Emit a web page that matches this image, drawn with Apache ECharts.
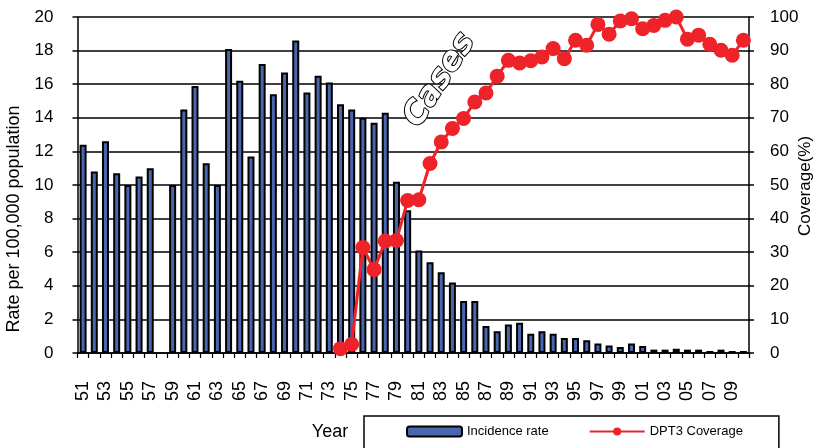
<!DOCTYPE html>
<html>
<head>
<meta charset="utf-8">
<script src="https://cdn.jsdelivr.net/npm/echarts@6/dist/echarts.min.js"></script>
<style>
  html, body { margin: 0; padding: 0; background: #fff; }
  #chart { width: 818px; height: 448px; }
</style>
</head>
<body>
<div id="chart"></div>
<script>
// Years 1951-2010, shown as two-digit labels
const years = ['51','52','53','54','55','56','57','58','59','60',
               '61','62','63','64','65','66','67','68','69','70',
               '71','72','73','74','75','76','77','78','79','80',
               '81','82','83','84','85','86','87','88','89','90',
               '91','92','93','94','95','96','97','98','99','00',
               '01','02','03','04','05','06','07','08','09','10'];

// Incidence rate per 100,000 population (1958 not reported)
const incidenceRate = [12.4, 10.8, 12.6, 10.7, 10.0, 10.5, 11.0, null, 10.0, 14.5,
                       15.9, 11.3, 10.0, 18.1, 16.2, 11.7, 17.2, 15.4, 16.7, 18.6,
                       15.5, 16.5, 16.1, 14.8, 14.5, 14.0, 13.7, 14.3, 10.2, 8.5,
                       6.1, 5.4, 4.8, 4.2, 3.1, 3.1, 1.6, 1.3, 1.7, 1.8,
                       1.15, 1.3, 1.15, 0.9, 0.9, 0.76, 0.56, 0.44, 0.36, 0.56,
                       0.42, 0.2, 0.2, 0.26, 0.2, 0.2, 0.12, 0.2, 0.12, 0.12];

// DPT3 coverage (%), reported from 1974 onward
const dpt3Coverage = [null, null, null, null, null, null, null, null, null, null,
                      null, null, null, null, null, null, null, null, null, null,
                      null, null, null, 1.3, 2.6, 31.4, 24.8, 33.3, 33.5, 45.4,
                      45.6, 56.4, 62.8, 66.8, 69.8, 74.7, 77.4, 82.4, 87.1, 86.3,
                      87.0, 88.1, 90.6, 87.6, 93.1, 91.6, 97.8, 94.9, 98.8, 99.5,
                      96.5, 97.5, 99.0, 100.0, 93.4, 94.6, 91.9, 90.1, 88.6, 93.1];

const leftTicks = { min: 0, max: 20, interval: 2 };
const rightTicks = { min: 0, max: 100, interval: 10 };

const FONT = '"Liberation Sans", Arial, sans-serif';
const chart = echarts.init(document.getElementById('chart'), null, { renderer: 'canvas' });

chart.setOption({
  animation: false,
  backgroundColor: '#fff',
  grid: { left: 77.5, right: 69, top: 17, bottom: 95 },
  legend: {
    left: 364, top: 416,
    padding: [9, 36, 20, 42],
    borderColor: '#000', borderWidth: 1.5,
    itemGap: 40, itemWidth: 55, itemHeight: 10,
    textStyle: { fontFamily: FONT, fontSize: 13, color: '#000' },
    data: ['Incidence rate', 'DPT3 Coverage']
  },
  xAxis: {
    type: 'category',
    data: years,
    boundaryGap: true,
    axisLine: { lineStyle: { color: '#000', width: 1.5 } },
    axisTick: { show: true, interval: 0, length: 5, lineStyle: { color: '#000', width: 1.2 } },
    axisLabel: { interval: 1, rotate: 90, margin: 28, fontFamily: FONT, fontSize: 18, color: '#000' }
  },
  yAxis: [
    {
      type: 'value', min: leftTicks.min, max: leftTicks.max, interval: leftTicks.interval,
      axisLine: { show: true, lineStyle: { color: '#000', width: 1.5 } },
      axisTick: { show: true, length: 5, lineStyle: { color: '#000', width: 1.5 } },
      axisLabel: { margin: 24, fontFamily: FONT, fontSize: 17, color: '#000' },
      splitLine: { show: true, lineStyle: { color: '#000', width: 1.6 } }
    },
    {
      type: 'value', min: rightTicks.min, max: rightTicks.max, interval: rightTicks.interval,
      position: 'right',
      axisLine: { show: true, lineStyle: { color: '#000', width: 1.5 } },
      axisTick: { show: true, length: 5, lineStyle: { color: '#000', width: 1.5 } },
      axisLabel: { margin: 21, fontFamily: FONT, fontSize: 17, color: '#000' },
      splitLine: { show: false }
    }
  ],
  series: [
    {
      name: 'Incidence rate',
      type: 'bar',
      yAxisIndex: 0,
      data: incidenceRate,
      barWidth: 7,
      itemStyle: { color: '#4a66ad', borderColor: '#000', borderWidth: 2 }
    },
    {
      name: 'DPT3 Coverage',
      type: 'line',
      yAxisIndex: 1,
      data: dpt3Coverage,
      symbol: 'circle',
      symbolSize: 15,
      showSymbol: true,
      showAllSymbol: true,
      clip: false,
      lineStyle: { color: '#ee2229', width: 3 },
      itemStyle: { color: '#ee2229' }
    }
  ],
  graphic: [
    {
      type: 'text', x: 14, y: 219, rotation: Math.PI / 2,
      style: { text: 'Rate per 100,000 population', font: '18px ' + FONT, fill: '#000',
               align: 'center', verticalAlign: 'middle' }
    },
    {
      type: 'text', x: 805, y: 186, rotation: Math.PI / 2,
      style: { text: 'Coverage(%)', font: '17px ' + FONT, fill: '#000',
               align: 'center', verticalAlign: 'middle' }
    },
    {
      type: 'text', x: 330, y: 432,
      style: { text: 'Year', font: '18px ' + FONT, fill: '#000',
               align: 'center', verticalAlign: 'middle' }
    },
    {
      type: 'text', x: 440, y: 80, rotation: 1.0, z: 100,
      style: { text: 'Cases', font: 'italic bold 32px "DejaVu Sans", sans-serif',
               fill: '#fff', stroke: '#000', lineWidth: 2,
               align: 'center', verticalAlign: 'middle',
               shadowColor: 'rgba(0,0,0,0.45)', shadowBlur: 2, shadowOffsetX: 4, shadowOffsetY: 3 }
    }
  ]
});
</script>
</body>
</html>
